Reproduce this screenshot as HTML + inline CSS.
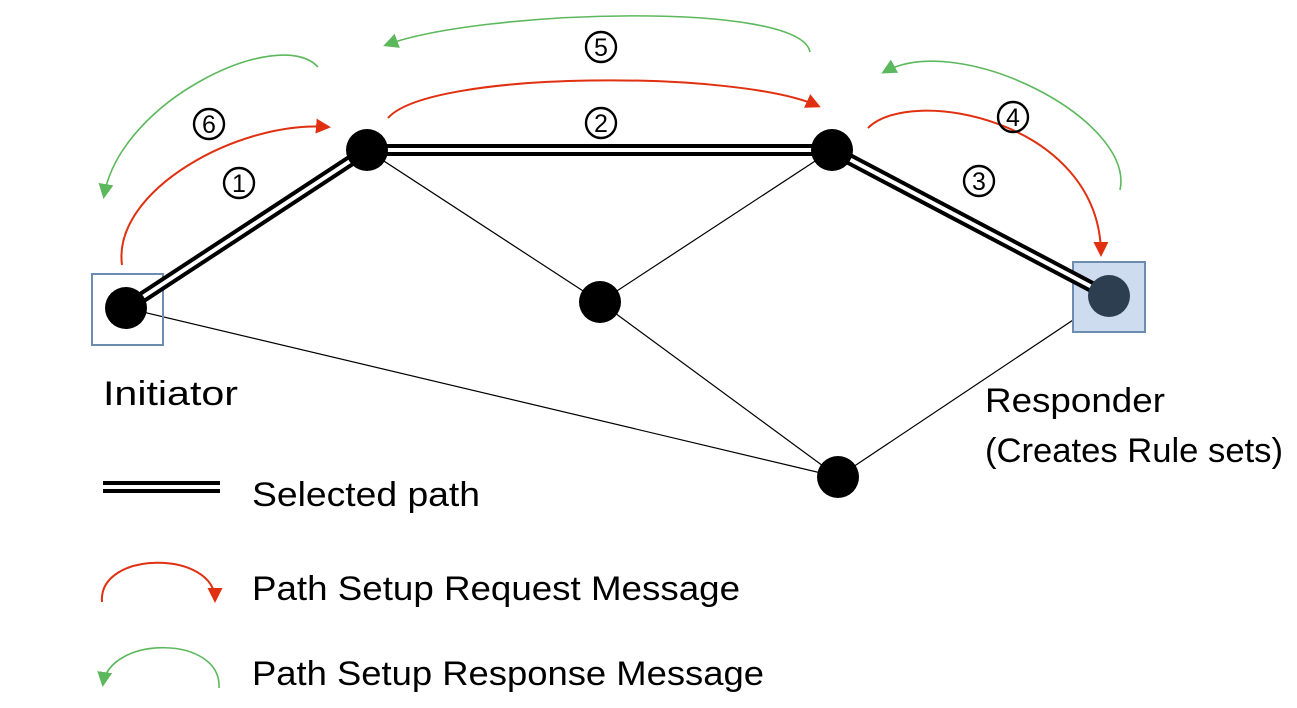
<!DOCTYPE html>
<html><head><meta charset="utf-8"><style>
html,body{margin:0;padding:0;background:#fff;}
svg{display:block;font-family:"Liberation Sans","DejaVu Sans",sans-serif;}
</style></head><body>
<svg width="1297" height="708" viewBox="0 0 1297 708" xmlns="http://www.w3.org/2000/svg">
<defs>
<marker id="r" viewBox="0 0 10 10" refX="8" refY="5" markerWidth="15" markerHeight="15" orient="auto" markerUnits="userSpaceOnUse"><path d="M0,0 L10,5 L0,10 z" fill="#e03010"/></marker>
<marker id="g" viewBox="0 0 10 10" refX="8" refY="5" markerWidth="15" markerHeight="15" orient="auto" markerUnits="userSpaceOnUse"><path d="M0,0 L10,5 L0,10 z" fill="#5cb85c"/></marker>
</defs>
<g stroke="#000" stroke-width="1.2">
<line x1="367" y1="150" x2="600" y2="302"/>
<line x1="832" y1="150" x2="600" y2="302"/>
<line x1="600" y1="302" x2="838" y2="477"/>
<line x1="126" y1="308" x2="838" y2="477"/>
<line x1="1109" y1="296" x2="838" y2="477"/>
</g>
<rect x="1073" y="262" width="72" height="70" fill="#cddcee" stroke="#6e8bb0" stroke-width="2"/>
<rect x="92" y="274" width="71" height="71" fill="none" stroke="#6e8bb0" stroke-width="2"/>
<g fill="none">
<polyline points="126,308 367,150 832,150 1109,296" stroke="#000" stroke-width="12"/>
<polyline points="126,308 367,150 832,150 1109,296" stroke="#fff" stroke-width="4"/>
</g>
<circle cx="126" cy="308" r="21" fill="#000"/>
<circle cx="367" cy="150" r="21" fill="#000"/>
<circle cx="832" cy="150" r="21" fill="#000"/>
<circle cx="600" cy="302" r="21" fill="#000"/>
<circle cx="838" cy="477" r="21" fill="#000"/>
<circle cx="1109" cy="296" r="21" fill="#2d3e50"/>
<g fill="none" stroke="#e03010" stroke-width="2">
<path d="M122,265 C112,190 240,120 328,127" marker-end="url(#r)"/>
<path d="M388,118 C430,70 740,70 818,106" marker-end="url(#r)"/>
<path d="M868,128 C910,85 1100,120 1101,254" marker-end="url(#r)"/>
<path d="M102,602 C98,550 215,550 215,600" marker-end="url(#r)"/>
</g>
<g fill="none" stroke="#5cb85c" stroke-width="1.6">
<path d="M318,67 C280,25 120,100 104,196" marker-end="url(#g)"/>
<path d="M810,52 C800,0 480,10 386,45" marker-end="url(#g)"/>
<path d="M1120,190 C1135,120 960,30 884,72" marker-end="url(#g)"/>
<path d="M219,688 C222,635 110,635 103,684" marker-end="url(#g)"/>
</g>
<g fill="none" stroke="#000" stroke-width="2.4">
<circle cx="209" cy="124" r="15"/>
<circle cx="239" cy="183" r="15"/>
<circle cx="601" cy="123" r="15"/>
<circle cx="601" cy="47" r="15"/>
<circle cx="1013" cy="117" r="15"/>
<circle cx="979" cy="181" r="15"/>
</g>
<g font-size="25" text-anchor="middle" fill="#000">
<text x="209" y="133">6</text>
<text x="239" y="192">1</text>
<text x="601" y="132">2</text>
<text x="601" y="56">5</text>
<text x="1013" y="126">4</text>
<text x="979" y="190">3</text>
</g>
<g font-size="34" fill="#000">
<text x="103" y="405" textLength="135" lengthAdjust="spacingAndGlyphs">Initiator</text>
<text x="985" y="412" textLength="180" lengthAdjust="spacingAndGlyphs">Responder</text>
<text x="985" y="462" textLength="298" lengthAdjust="spacingAndGlyphs">(Creates Rule sets)</text>
<text x="252" y="506" textLength="228" lengthAdjust="spacingAndGlyphs">Selected path</text>
<text x="252" y="600" textLength="488" lengthAdjust="spacingAndGlyphs">Path Setup Request Message</text>
<text x="252" y="685" textLength="512" lengthAdjust="spacingAndGlyphs">Path Setup Response Message</text>
</g>
<line x1="103" y1="487" x2="220" y2="487" stroke="#000" stroke-width="12"/>
<line x1="103" y1="487" x2="220" y2="487" stroke="#fff" stroke-width="4"/>
</svg>
</body></html>
